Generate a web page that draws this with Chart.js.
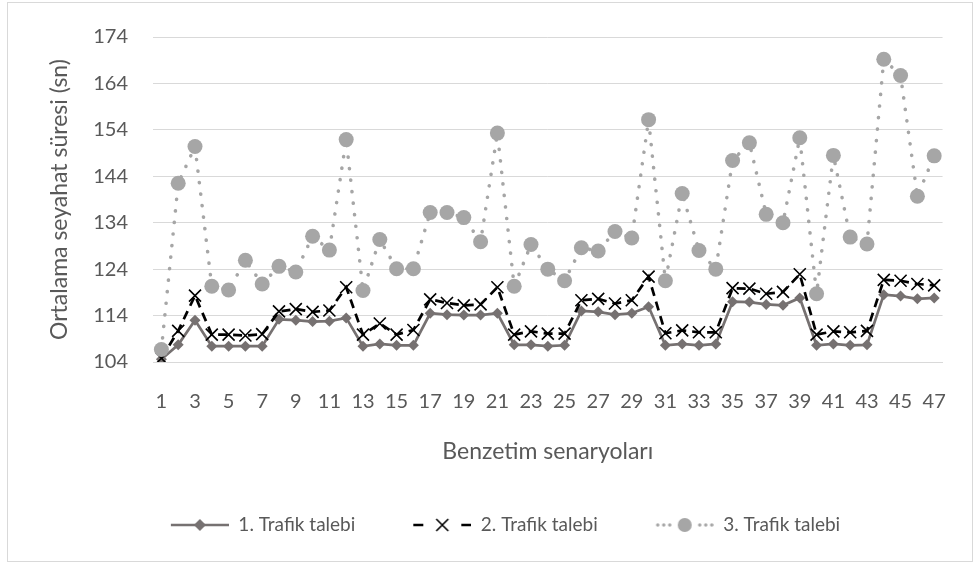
<!DOCTYPE html>
<html>
<head>
<meta charset="utf-8">
<script src="https://cdn.jsdelivr.net/npm/chart.js@4.4.0/dist/chart.umd.min.js"></script>
<style>
  html, body { margin: 0; padding: 0; background: #fff; }
  #wrap { width: 974px; height: 564px; }
</style>
</head>
<body>
<div id="wrap"><canvas id="myChart" width="974" height="564"></canvas></div>
<script>
var senaryolar = ['1','2','3','4','5','6','7','8','9','10','11','12','13','14','15','16',
  '17','18','19','20','21','22','23','24','25','26','27','28','29','30','31','32',
  '33','34','35','36','37','38','39','40','41','42','43','44','45','46','47'];

var talep1 = [104.6, 107.7, 113.0, 107.4, 107.4, 107.4, 107.4, 113.2, 113.0, 112.7, 112.8, 113.5,
  107.4, 107.9, 107.6, 107.6, 114.5, 114.2, 114.1, 114.1, 114.5, 107.7, 107.7, 107.4,
  107.6, 115.0, 114.8, 114.2, 114.5, 115.9, 107.6, 107.9, 107.6, 107.9, 117.0, 116.9,
  116.4, 116.2, 117.8, 107.6, 107.9, 107.6, 107.7, 118.5, 118.2, 117.6, 117.8];

var talep2 = [104.8, 110.7, 118.3, 109.9, 109.9, 109.7, 110.0, 114.9, 115.4, 114.8, 115.1, 120.1,
  109.9, 112.3, 109.9, 110.9, 117.5, 116.7, 116.2, 116.4, 120.1, 109.9, 110.6, 110.1,
  110.1, 117.3, 117.6, 116.6, 117.3, 122.4, 110.2, 110.8, 110.4, 110.4, 119.9, 119.8,
  118.7, 119.1, 122.9, 109.9, 110.6, 110.4, 110.7, 121.7, 121.5, 120.8, 120.5];

var talep3 = [106.7, 142.5, 150.4, 120.3, 119.5, 125.9, 120.8, 124.6, 123.4, 131.1, 128.1, 151.9,
  119.4, 130.4, 124.1, 124.1, 136.2, 136.2, 135.1, 129.9, 153.3, 120.3, 129.3, 124.0,
  121.5, 128.6, 127.9, 132.1, 130.7, 156.2, 121.5, 140.3, 128.0, 124.0, 147.4, 151.2,
  135.8, 134.0, 152.3, 118.7, 148.5, 130.9, 129.4, 169.2, 165.7, 139.7, 148.4];

var seriNames = ['1. Trafik talebi', '2. Trafik talebi', '3. Trafik talebi'];
var yMin = 104, yMax = 174, yStep = 10;

var textColor = '#595959';
var gridColor = '#d9d9d9';
var fontFam = 'Lato, "Noto Sans", sans-serif';

// legend sample (line + marker) sits on the right part of a small canvas
function legendSample(kind) {
    var c = document.createElement('canvas');
    c.width = 96;
    c.height = 20;
    var g = c.getContext('2d');
    var x0 = 38, x1 = 96, y = 10, mx = 67;
    if (kind == 1) {
        g.strokeStyle = '#767171';
        g.lineWidth = 2.7;
        g.beginPath(); g.moveTo(x0, y); g.lineTo(x1, y); g.stroke();
        g.fillStyle = '#767171';
        g.beginPath(); g.moveTo(mx, y - 6); g.lineTo(mx + 6, y); g.lineTo(mx, y + 6); g.lineTo(mx - 6, y); g.closePath(); g.fill();
    } else if (kind == 2) {
        g.strokeStyle = '#000';
        g.lineWidth = 2.7;
        g.beginPath(); g.moveTo(x0, y); g.lineTo(x0 + 10, y); g.moveTo(x1 - 10, y); g.lineTo(x1, y); g.stroke();
        g.lineWidth = 1.6;
        g.beginPath();
        g.moveTo(mx - 6, y - 6); g.lineTo(mx + 6, y + 6);
        g.moveTo(mx + 6, y - 6); g.lineTo(mx - 6, y + 6);
        g.stroke();
    } else {
        g.fillStyle = '#a6a6a6';
        var dots = [x0 + 2, x0 + 8, x0 + 14, x1 - 14, x1 - 8, x1 - 2];
        for (var i = 0; i < dots.length; i++) {
            g.beginPath(); g.arc(dots[i], y, 1.7, 0, Math.PI * 2); g.fill();
        }
        g.beginPath(); g.arc(mx, y, 7, 0, Math.PI * 2); g.fill();
    }
    return c;
}
var samples = [legendSample(1), legendSample(2), legendSample(3)];

var chartBorder = {
    id: 'chartBorder',
    beforeDraw: function(chart) {
        var ctx = chart.ctx;
        ctx.save();
        ctx.fillStyle = '#fff';
        ctx.fillRect(0, 0, chart.width, chart.height);
        ctx.strokeStyle = gridColor;
        ctx.lineWidth = 1;
        ctx.strokeRect(7.5, 2.5, 965, 559);
        ctx.restore();
    }
};

var ctx = document.getElementById('myChart');
var myChart = new Chart(ctx, {
    type: 'line',
    data: {
        labels: senaryolar,
        datasets: [{
            label: seriNames[0],
            data: talep1,
            order: 3,
            borderColor: '#767171',
            backgroundColor: '#767171',
            borderWidth: 2.7,
            pointStyle: 'rectRot',
            pointRadius: 5.5,
            pointBorderWidth: 0,
            tension: 0
        }, {
            label: seriNames[1],
            data: talep2,
            order: 2,
            borderColor: '#000000',
            backgroundColor: '#000000',
            borderWidth: 2.7,
            borderDash: [9, 6],
            pointStyle: 'crossRot',
            pointRadius: 8.5,
            pointBorderWidth: 1.6,
            tension: 0
        }, {
            label: seriNames[2],
            data: talep3,
            order: 1,
            borderColor: '#a6a6a6',
            backgroundColor: '#a6a6a6',
            borderWidth: 3.6,
            borderDash: [0.1, 11.5],
            borderCapStyle: 'round',
            pointStyle: 'circle',
            pointRadius: 7.5,
            pointBorderWidth: 0,
            tension: 0
        }]
    },
    options: {
        responsive: false,
        animation: false,
        layout: {
            padding: { left: 20, right: 21, top: 31, bottom: 19.5 }
        },
        plugins: {
            legend: {
                position: 'bottom',
                labels: {
                    usePointStyle: true,
                    pointStyleWidth: 96,
                    padding: 20,
                    color: textColor,
                    font: { family: fontFam, size: 19 },
                    generateLabels: function(chart) {
                        return seriNames.map(function(n, i) {
                            return {
                                text: n,
                                pointStyle: samples[i],
                                datasetIndex: i,
                                fontColor: textColor,
                                hidden: false,
                                lineWidth: 0
                            };
                        });
                    }
                }
            },
            tooltip: { enabled: false }
        },
        scales: {
            x: {
                offset: true,
                grid: { display: false, drawTicks: false },
                border: { display: true, color: gridColor },
                ticks: {
                    autoSkip: false,
                    maxRotation: 0,
                    padding: 28,
                    color: textColor,
                    font: { family: fontFam, size: 20 },
                    callback: function(v, i) {
                        return i % 2 == 0 ? senaryolar[i] : '';
                    }
                },
                title: {
                    display: true,
                    text: 'Benzetim senaryoları',
                    color: textColor,
                    font: { family: fontFam, size: 23 },
                    padding: { top: 4, bottom: 29.7 }
                },
                afterFit: function(s) { s.height = 133.5; }
            },
            y: {
                min: yMin,
                max: yMax,
                grid: { color: gridColor, drawTicks: false },
                border: { display: false },
                ticks: {
                    stepSize: yStep,
                    padding: 25,
                    color: textColor,
                    font: { family: fontFam, size: 20 }
                },
                title: {
                    display: true,
                    text: 'Ortalama seyahat süresi (sn)',
                    color: textColor,
                    font: { family: fontFam, size: 23 },
                    padding: { top: 26, bottom: 4 }
                },
                afterFit: function(s) { s.width = 133; }
            }
        }
    },
    plugins: [chartBorder]
});
</script>
</body>
</html>
